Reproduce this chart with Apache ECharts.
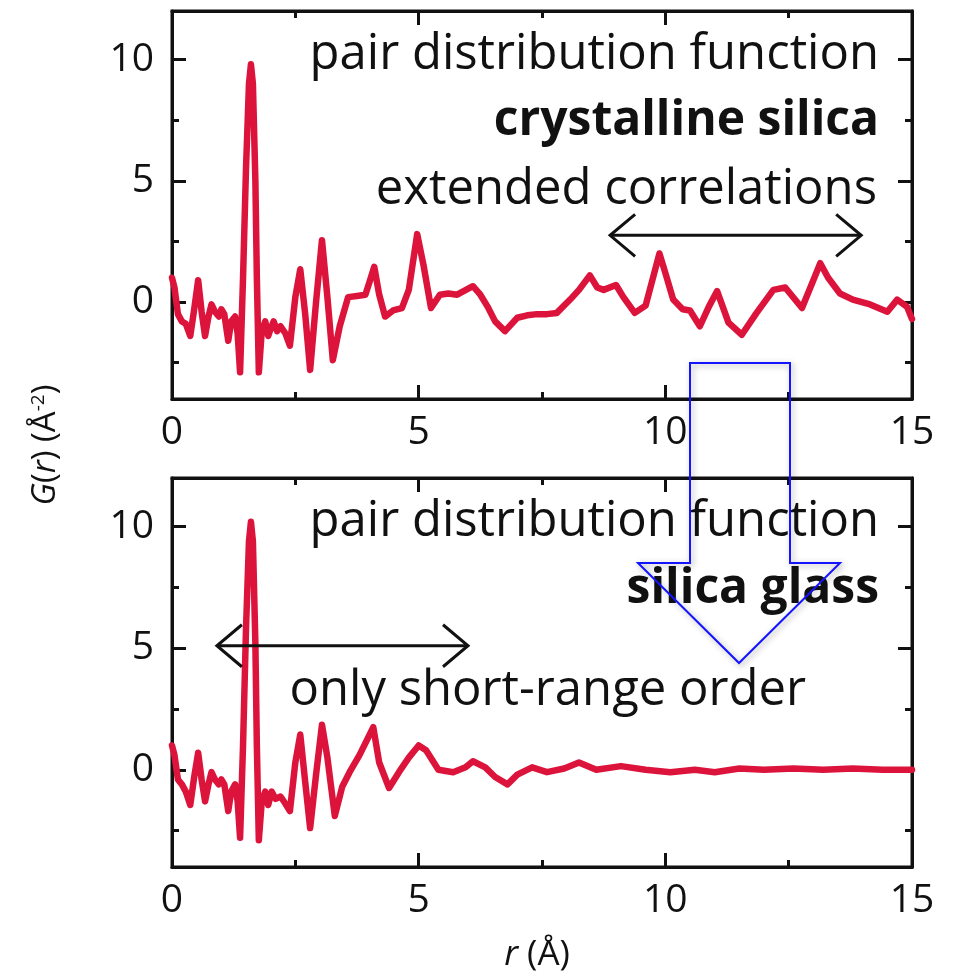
<!DOCTYPE html>
<html>
<head>
<meta charset="utf-8">
<script src="https://cdn.jsdelivr.net/npm/echarts@6/dist/echarts.min.js"></script>
<style>
  html, body { margin: 0; padding: 0; background: #fff; }
  #main { width: 955px; height: 979px; }
</style>
</head>
<body>
<div id="main"></div>
<script>
// crystalline silica G(r)
var rCrystal = [0.00, 0.05, 0.12, 0.20, 0.28, 0.37, 0.45, 0.53, 0.60, 0.67, 0.74, 0.80, 0.87, 0.95, 1.00, 1.06,
  1.14, 1.20, 1.28, 1.33, 1.38, 1.44, 1.50, 1.56, 1.60, 1.64, 1.69, 1.72, 1.76, 1.82, 1.89, 1.95, 2.00, 2.06,
  2.13, 2.20, 2.30, 2.39, 2.50, 2.60, 2.70, 2.80, 2.92, 3.04, 3.15, 3.26, 3.40, 3.57, 3.75, 3.92, 4.00, 4.10,
  4.20, 4.32, 4.48, 4.66, 4.80, 4.97, 5.10, 5.25, 5.43, 5.60, 5.78, 6.10, 6.25, 6.40, 6.55, 6.75, 7.00, 7.20,
  7.40, 7.60, 7.80, 8.07, 8.25, 8.47, 8.62, 8.75, 9.00, 9.15, 9.38, 9.60, 9.75, 9.88, 10.00, 10.16, 10.35,
  10.50, 10.70, 10.88, 11.05, 11.28, 11.55, 11.85, 12.19, 12.43, 12.77, 13.00, 13.14, 13.30, 13.54, 13.80,
  14.15, 14.50, 14.70, 14.90, 15.00];
var gCrystal = [1.0, 0.6, -0.5, -0.8, -0.9, -1.4, -0.3, 0.9, -0.4, -1.4, -0.6, -0.1, -0.4, -0.6, -0.3, -0.5,
  -1.6, -0.8, -0.6, -1.3, -2.9, 1.0, 5.5, 9.0, 9.8, 9.0, 5.0, 1.0, -2.9, -1.2, -0.8, -1.4, -1.1, -0.8,
  -1.2, -1.0, -1.3, -1.8, 0.2, 1.35, -0.5, -2.8, 0.0, 2.55, 0.2, -2.4, -1.0, 0.2, 0.25, 0.3, 0.8, 1.45,
  0.3, -0.6, -0.35, -0.25, 0.5, 2.8, 1.5, -0.25, 0.3, 0.35, 0.3, 0.65, 0.3, -0.2, -0.8, -1.2, -0.65, -0.55,
  -0.5, -0.5, -0.45, 0.1, 0.5, 1.1, 0.6, 0.5, 0.7, 0.2, -0.45, -0.15, 1.0, 2.0, 1.2, 0.1, -0.3,
  -0.35, -1.0, -0.2, 0.45, -0.85, -1.35, -0.45, 0.5, 0.6, -0.25, 0.9, 1.6, 1.0, 0.35, 0.1,
  -0.1, -0.4, 0.1, -0.2, -0.7];

// silica glass G(r)
var rGlass = [0.00, 0.05, 0.12, 0.20, 0.28, 0.37, 0.45, 0.53, 0.60, 0.67, 0.74, 0.80, 0.87, 0.95, 1.00, 1.06,
  1.14, 1.20, 1.28, 1.33, 1.38, 1.44, 1.50, 1.56, 1.60, 1.64, 1.69, 1.72, 1.76, 1.82, 1.89, 1.95, 2.02, 2.10,
  2.20, 2.30, 2.39, 2.50, 2.60, 2.70, 2.80, 2.92, 3.04, 3.15, 3.30, 3.45, 3.60, 3.80, 4.08, 4.20, 4.40,
  4.60, 4.80, 5.00, 5.15, 5.40, 5.70, 5.95, 6.10, 6.35, 6.55, 6.80, 7.00, 7.30, 7.60, 7.95, 8.25, 8.60,
  9.10, 9.60, 10.10, 10.60, 11.00, 11.50, 12.00, 12.60, 13.20, 13.80, 14.40, 15.00];
var gGlass = [1.0, 0.6, -0.4, -0.6, -0.9, -1.45, -0.3, 0.7, -0.4, -1.3, -0.6, -0.1, -0.4, -0.6, -0.4, -0.6,
  -1.7, -0.9, -0.6, -1.3, -2.8, 1.0, 5.8, 9.4, 10.2, 9.4, 5.2, 1.0, -2.9, -1.3, -0.9, -1.45, -0.9, -1.2,
  -1.1, -1.4, -1.7, 0.3, 1.45, -0.5, -2.4, -0.2, 1.85, 0.5, -1.9, -0.7, -0.1, 0.6, 1.75, 0.3, -0.75,
  -0.1, 0.5, 1.0, 0.8, 0.0, -0.1, 0.1, 0.35, 0.1, -0.3, -0.6, -0.2, 0.1, -0.1, 0.05, 0.3, 0.0,
  0.15, 0.0, -0.1, 0.0, -0.1, 0.05, 0.0, 0.05, 0.0, 0.05, 0.0, 0.0];

var yLabelValues = [0, 5, 10];
var yMinorValues = [-2.5, 2.5, 7.5];
var arrowTop = [8.88, 13.97, 2.75];    // r from, r to, G
var arrowBottom = [0.91, 6.0, 5.1];

var FONT = "'Open Sans', sans-serif";
var INK = '#111';
var RED = '#dc143c';

function pairs(xs, ys) {
  return xs.map(function (x, i) { return [x, ys[i]]; });
}

function xAxes(g) {
  var base = {
    type: 'value', gridIndex: g, min: 0, max: 15, interval: 5,
    axisLine: { show: true, onZero: false, lineStyle: { color: INK, width: 3 } },
    axisTick: { show: true, inside: true, length: 14, lineStyle: { color: INK, width: 3 } },
    minorTick: { show: true, splitNumber: 2, length: 7, lineStyle: { color: INK, width: 3 } },
    splitLine: { show: false }
  };
  var bottom = Object.assign({}, base, {
    position: 'bottom',
    axisLabel: { show: true, color: INK, fontSize: 39, fontFamily: FONT, margin: 14 }
  });
  var top = Object.assign({}, base, { position: 'top', axisLabel: { show: false } });
  return [bottom, top];
}

function yAxes(g) {
  var list = [];
  ['left', 'right'].forEach(function (pos) {
    [true, false].forEach(function (major) {
      list.push({
        type: 'value', gridIndex: g, min: -4, max: 12, position: pos,
        axisLine: { show: major, onZero: false, lineStyle: { color: INK, width: 3 } },
        axisTick: {
          show: true, inside: true, length: major ? 14 : 7,
          customValues: major ? yLabelValues : yMinorValues,
          lineStyle: { color: INK, width: 3 }
        },
        axisLabel: {
          show: major && pos === 'left', customValues: yLabelValues,
          color: INK, fontSize: 39, fontFamily: FONT, margin: 18
        },
        splitLine: { show: false }
      });
    });
  });
  return list;
}

var chart = echarts.init(document.getElementById('main'));

var lineStyle = { color: RED, width: 6.5, join: 'round', cap: 'round' };

var option = {
  backgroundColor: '#fff',
  animation: false,
  grid: [
    { left: 172, right: 43, top: 11, height: 388, show: true, borderColor: INK, borderWidth: 3 },
    { left: 172, right: 43, top: 478, height: 389, show: true, borderColor: INK, borderWidth: 3 }
  ],
  xAxis: xAxes(0).concat(xAxes(1)),
  yAxis: yAxes(0).concat(yAxes(1)),
  series: [
    {
      type: 'line', xAxisIndex: 0, yAxisIndex: 0, data: pairs(rCrystal, gCrystal),
      showSymbol: false, lineStyle: lineStyle, z: 3
    },
    {
      type: 'line', xAxisIndex: 2, yAxisIndex: 4, data: pairs(rGlass, gGlass),
      showSymbol: false, lineStyle: lineStyle, z: 3
    }
  ]
};
chart.setOption(option);

function label(text, x, y, bold) {
  return {
    type: 'text', z: 20,
    style: {
      text: text, x: x, y: y, fill: INK, align: 'right', verticalAlign: 'middle',
      font: (bold ? 'bold 48px ' : '49px ') + FONT
    }
  };
}

function doubleArrow(seriesIndex, a) {
  var p1 = chart.convertToPixel({ seriesIndex: seriesIndex }, [a[0], a[2]]);
  var p2 = chart.convertToPixel({ seriesIndex: seriesIndex }, [a[1], a[2]]);
  var st = { stroke: INK, lineWidth: 3, fill: null };
  return [
    { type: 'polyline', z: 20, shape: { points: [p1, p2] }, style: st },
    { type: 'polyline', z: 20, shape: { points: [[p1[0] + 25, p1[1] - 21], p1, [p1[0] + 25, p1[1] + 21]] }, style: st },
    { type: 'polyline', z: 20, shape: { points: [[p2[0] - 25, p2[1] - 21], p2, [p2[0] - 25, p2[1] + 21]] }, style: st }
  ];
}

var graphics = [
  label('pair distribution function', 879, 55, false),
  label('crystalline silica', 879, 121, true),
  label('extended correlations', 877, 190, false),
  label('pair distribution function', 879, 522, false),
  label('silica glass', 879, 589, true),
  label('only short-range order', 806, 691, false),
  {
    type: 'text', z: 20, x: 46, y: 445, rotation: Math.PI / 2,
    style: {
      text: '{i|G}({i|r}) (Å{s|-2})',
      fill: INK, align: 'center', verticalAlign: 'middle',
      font: '33px ' + FONT,
      rich: {
        i: { fontStyle: 'italic', fontSize: 33, fontFamily: FONT, fill: INK },
        s: { fontSize: 19, fontFamily: FONT, verticalAlign: 'top', fill: INK }
      }
    }
  },
  {
    type: 'text', z: 20, x: 537, y: 955,
    style: {
      text: '{i|r} (Å)', fill: INK, align: 'center', verticalAlign: 'middle',
      font: '35px ' + FONT,
      rich: { i: { fontStyle: 'italic', fontSize: 35, fontFamily: FONT, fill: INK } }
    }
  },
  {
    type: 'polygon', z: 30,
    shape: { points: [[690, 363], [790, 363], [790, 563], [840, 563], [739, 663], [638, 563], [690, 563]] },
    style: {
      fill: null, stroke: '#1414ff', lineWidth: 2,
      shadowBlur: 6, shadowColor: 'rgba(0,0,0,0.35)', shadowOffsetX: 2, shadowOffsetY: 2
    }
  }
].concat(doubleArrow(0, arrowTop)).concat(doubleArrow(1, arrowBottom));

chart.setOption({ graphic: graphics });
</script>
</body>
</html>
